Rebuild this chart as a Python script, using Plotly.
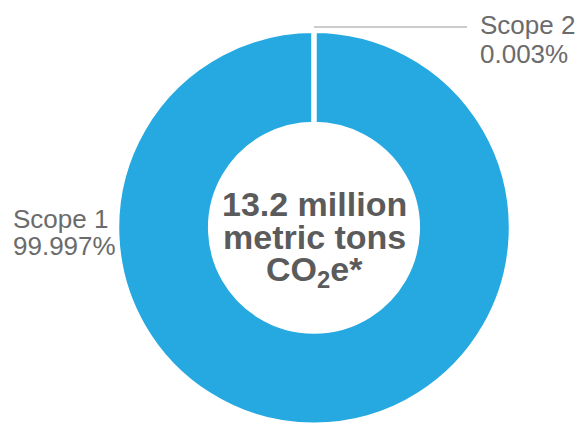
import plotly.graph_objects as go

labels = ["Scope 1", "Scope 2"]
values = [99.997, 0.003]
colors = ["#25a9e0", "#ffffff"]
center_lines = ["13.2 million", "metric tons", "CO<sub>2</sub>e*"]

W, H = 575, 425
cx, cy_top, R = 314, 228, 197.5
cy = H - cy_top

fig = go.Figure(go.Pie(
    labels=labels,
    values=values,
    hole=0.525,
    sort=False,
    direction="clockwise",
    rotation=0,
    marker=dict(colors=colors, line=dict(color="#ffffff", width=5)),
    textinfo="none",
    hoverinfo="label+percent",
    showlegend=False,
    domain=dict(x=[(cx - R) / W, (cx + R) / W], y=[max(0, (cy - R) / H), (cy + R) / H]),
))

FAM = "Liberation Sans, Arial, sans-serif"
LS = 26
label_font = dict(family=FAM, size=LS, color="#6b6b6b")


def add_line(text, x, baseline, size, font, xanchor="left"):
    fig.add_annotation(
        x=x / W, y=1 - (baseline - 0.905 * size - 1) / H, xref="paper", yref="paper",
        xanchor=xanchor, yanchor="top", showarrow=False, text=text, font=font,
    )


# Scope 1 label (left)
add_line(labels[0], 11, 227, LS, label_font)
add_line(f"{values[0]:.3f}%", 11, 254, LS, label_font)
# Scope 2 label (top right)
add_line(labels[1], 478, 33, LS, label_font)
add_line(f"{values[1]:.3f}%", 478, 62, LS, label_font)

fig.add_shape(type="line", xref="paper", yref="paper",
              x0=314 / W, x1=467 / W, y0=1 - 27 / H, y1=1 - 27 / H,
              line=dict(color="#9a9a9a", width=1.2))

CS = 34
center_font = dict(family=FAM, size=CS, color="#5b5b5b")
for t, b in zip(center_lines, [215, 248, 280]):
    add_line(f"<b>{t}</b>", 315, b, CS, center_font, xanchor="center")

fig.update_layout(
    width=W, height=H,
    margin=dict(l=0, r=0, t=0, b=0),
    paper_bgcolor="#ffffff", plot_bgcolor="#ffffff",
)

fig.write_html("out.html")
